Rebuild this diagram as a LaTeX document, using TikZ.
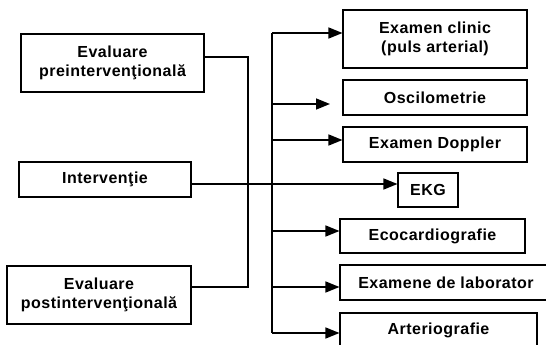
\documentclass[tikz,border=0pt]{standalone}
\usepackage{fontspec}
\setmainfont[LetterSpace=3]{Liberation Sans}
\usetikzlibrary{arrows.meta}
\begin{document}
\begin{tikzpicture}[x=1pt,y=-1pt,
  box/.style={draw,line width=1.1pt,inner sep=0pt,align=center,
    font=\fontsize{16}{19}\selectfont\bfseries},
  conn/.style={line width=1.5pt},
  arr/.style={line width=1.5pt,-{Triangle[length=14pt,width=11pt]}}]
\useasboundingbox (0,0) rectangle (546,345);
\clip (0,0) rectangle (546,345);
% left boxes
\node[box,minimum width=183pt,minimum height=58pt] (pre) at (112.5,63) {Evaluare\\preintervenţională};
\node[box,minimum width=172pt,minimum height=35pt] (int) at (105,179.5) {Intervenţie};
\node[box,minimum width=184pt,minimum height=58pt] (post) at (99,295) {Evaluare\\postintervenţională};
% right boxes
\node[box,minimum width=184pt,minimum height=58pt] (clinic) at (435,39) {Examen clinic\\(puls arterial)};
\node[box,minimum width=184pt,minimum height=35pt] (osc) at (435,97.5) {Oscilometrie};
\node[box,minimum width=184pt,minimum height=35pt] (dop) at (435,144.5) {Examen Doppler};
\node[box,minimum width=60pt,minimum height=34pt] (ekg) at (428,190) {EKG};
\node[box,minimum width=185pt,minimum height=34pt] (eco) at (432.5,236) {Ecocardiografie};
\node[box,minimum width=212pt,minimum height=35pt] (lab) at (446,282.5) {Examene de laborator};
\node[box,minimum width=197pt,minimum height=38pt] (art) at (438.5,332) {\raisebox{6pt}{Arteriografie}};
% bus coordinates
\coordinate (bt) at (272,33);
\coordinate (bb) at (272,333);
\coordinate (lx) at (248,0);
% left bracket
\draw[conn] (pre.east |- 0,57) -| (lx |- 0,287) -- (post.east |- 0,287);
% intervention line to EKG
\draw[arr] (int.east |- 0,184) -- (ekg.west |- 0,184);
% bus
\draw[conn] (bt) -- (bb);
\draw[arr] (bt) -- (clinic.west |- bt);
\draw[arr] (bt |- 0,104) -- (330,104);
\draw[arr] (bt |- 0,140) -- (dop.west |- 0,140);
\draw[arr] (bt |- 0,231) -- (eco.west |- 0,231);
\draw[arr] (bt |- 0,287) -- (lab.west |- 0,287);
\draw[arr] (bb) -- (art.west |- bb);
\end{tikzpicture}
\end{document}
